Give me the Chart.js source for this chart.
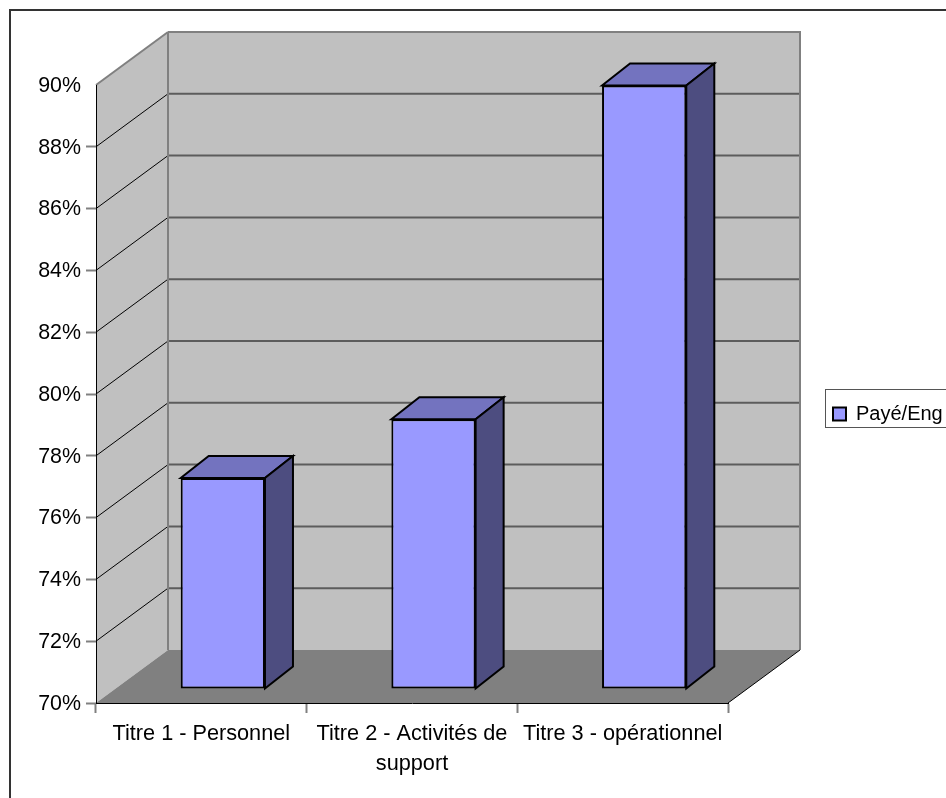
<!DOCTYPE html>
<html>
<head>
<meta charset="utf-8">
<style>html,body{margin:0;padding:0;background:#fff;overflow:hidden}canvas{display:block}</style>
<script src="https://cdn.jsdelivr.net/npm/chart.js@4"></script>
</head>
<body>
<canvas id="c" width="946" height="798"></canvas>
<script>
// Data
const categories = ['Titre 1 - Personnel', ['Titre 2 - Activités de', 'support'], 'Titre 3 - opérationnel'];
const seriesName = 'Payé/Eng';
const paidValues = [76.83, 78.73, 89.53];
const yMin = 70, yMax = 90, yStep = 2;

// Pseudo-3D projection of the plot box and of the columns
const boxDepthX = 72, boxDepthY = 53;
const barDepthX = 28, barDepthY = 22;
const barShiftX = 21.5, barShiftY = 14;

const FONT = {family: '"Liberation Sans", Arial, sans-serif', size: 21.4};

function polygon(ctx, pts, fill, stroke, width) {
  ctx.beginPath();
  pts.forEach((p, i) => i ? ctx.lineTo(p[0], p[1]) : ctx.moveTo(p[0], p[1]));
  ctx.closePath();
  if (fill) { ctx.fillStyle = fill; ctx.fill(); }
  if (stroke) { ctx.strokeStyle = stroke; ctx.lineWidth = width; ctx.stroke(); }
}
function segment(ctx, x1, y1, x2, y2, color, width) {
  ctx.beginPath();
  ctx.moveTo(x1, y1);
  ctx.lineTo(x2, y2);
  ctx.strokeStyle = color;
  ctx.lineWidth = width;
  ctx.stroke();
}

// Page background, outer frame, walls, floor and wall gridlines
const wallsPlugin = {
  id: 'walls',
  beforeDraw(chart) {
    const {ctx, chartArea: a, scales: {y}} = chart;
    const dx = boxDepthX, dy = boxDepthY;
    ctx.save();
    ctx.fillStyle = '#fff';
    ctx.fillRect(0, 0, chart.width, chart.height);
    ctx.lineCap = 'butt';

    // outer frame runs past the right and bottom page edges
    ctx.strokeStyle = '#333';
    ctx.lineWidth = 2;
    ctx.strokeRect(10, 10, chart.width + 20, chart.height + 20);

    // side wall, back wall, floor
    polygon(ctx, [[a.left, a.bottom], [a.left + dx, a.bottom - dy], [a.left + dx, a.top - dy], [a.left, a.top]], '#c0c0c0');
    polygon(ctx, [[a.left + dx, a.top - dy], [a.right + dx, a.top - dy], [a.right + dx, a.bottom - dy], [a.left + dx, a.bottom - dy]], '#c0c0c0');
    polygon(ctx, [[a.left, a.bottom], [a.right, a.bottom], [a.right + dx, a.bottom - dy], [a.left + dx, a.bottom - dy]], '#808080');

    // gridlines follow the value ticks across both walls
    y.ticks.forEach(t => {
      if (t.value <= yMin || t.value >= yMax) return;
      const py = y.getPixelForValue(t.value);
      segment(ctx, a.left, py, a.left + dx, py - dy, '#000', 1);
      segment(ctx, a.left + dx, py - dy, a.right + dx, py - dy, '#5c5c5c', 2);
    });

    // wall edges
    segment(ctx, a.left, a.top, a.left + dx, a.top - dy, '#808080', 2);
    segment(ctx, a.left + dx, a.top - dy, a.right + dx, a.top - dy, '#808080', 2);
    segment(ctx, a.left + dx, a.top - dy, a.left + dx, a.bottom - dy, '#808080', 2);
    segment(ctx, a.right + dx, a.top - dy - 1, a.right + dx, a.bottom - dy, '#808080', 2);
    segment(ctx, a.right, a.bottom, a.right + dx, a.bottom - dy, '#000', 1);

    // legend frame
    ctx.strokeStyle = '#555';
    ctx.lineWidth = 1;
    ctx.strokeRect(825.5, 389.5, chart.width, 38);
    ctx.restore();
  },
  beforeDatasetDraw(chart, args) {
    const {ctx} = chart;
    const meta = chart.getDatasetMeta(args.index);
    ctx.save();
    ctx.translate(barShiftX, -barShiftY);
    ctx.lineJoin = 'miter';
    // top and side faces sit behind the front face that the bar element paints
    meta.data.forEach(bar => {
      const {x, y, base, width} = bar.getProps(['x', 'y', 'base', 'width'], true);
      const l = x - width / 2, r = x + width / 2;
      const dx = barDepthX, dy = barDepthY;
      polygon(ctx, [[l, y], [l + dx, y - dy], [r + dx, y - dy], [r, y]], '#7373bf', '#000', 2);
      polygon(ctx, [[r, y], [r + dx, y - dy], [r + dx, base - dy], [r, base]], '#4d4d80', '#000', 2);
    });
  },
  afterDatasetDraw(chart) {
    chart.ctx.restore();
  },
  afterLayout(chart) {
    // the legend sits beside the plot box, outside the chart area
    const lg = chart.legend;
    const w = lg.width, h = lg.height;
    lg.left = 823;
    lg.top = 394;
    lg.right = lg.left + w;
    lg.bottom = lg.top + h;
  }
};

new Chart(document.getElementById('c'), {
  type: 'bar',
  data: {
    labels: categories,
    datasets: [{
      label: seriesName,
      data: paidValues,
      base: yMin,
      backgroundColor: '#9999ff',
      borderColor: '#000',
      borderWidth: 2,
      borderSkipped: false,
      barPercentage: 0.8,
      categoryPercentage: 0.5,
      clip: false
    }]
  },
  plugins: [wallsPlugin],
  options: {
    responsive: false,
    animation: false,
    devicePixelRatio: 1,
    layout: {autoPadding: false, padding: {left: 0, top: 85, right: 218, bottom: 0}},
    plugins: {
      title: {display: false},
      tooltip: {enabled: false},
      legend: {
        position: 'chartArea',
        align: 'start',
        labels: {boxWidth: 13, boxHeight: 13, padding: 10, color: '#000', font: {...FONT, size: 20}}
      }
    },
    scales: {
      x: {
        offset: true,
        grid: {offset: true, drawOnChartArea: false, tickLength: 10, tickColor: '#808080', tickWidth: 2},
        border: {display: true, color: '#000', width: 1},
        ticks: {color: '#000', font: {...FONT, size: 21.7, lineHeight: 1.39}, padding: 6, maxRotation: 0, minRotation: 0, autoSkip: false},
        afterFit(s) { s.height = 95; }
      },
      y: {
        min: yMin,
        max: yMax,
        grid: {
          drawOnChartArea: false,
          tickLength: 10,
          tickWidth: 2,
          tickColor: c => (c.tick && c.tick.value === yMax ? 'transparent' : '#808080')
        },
        border: {display: true, color: '#000', width: 1},
        ticks: {
          stepSize: yStep,
          color: '#000',
          font: FONT,
          padding: 5,
          labelOffset: 1,
          callback: v => v + '%'
        },
        afterFit(s) { s.width = 96; }
      }
    }
  }
});
</script>
</body>
</html>
